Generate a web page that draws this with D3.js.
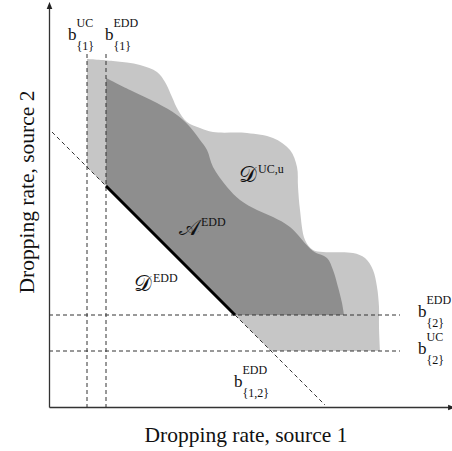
<!DOCTYPE html>
<html>
<head>
<meta charset="utf-8">
<script src="https://cdn.jsdelivr.net/npm/d3@7"></script>
<style>
body { margin: 0; background: #fff; }
text { font-family: "Liberation Serif", "Times New Roman", serif; fill: #111; }
</style>
</head>
<body>
<script>
// thresholds, in axis units (0-100 on both axes)
var b1UC = 9.5, b1EDD = 14.25;   // source 1
var b2UC = 14, b2EDD = 23;       // source 2
var b12EDD = 69.5;               // sum of both sources

// upper edge of the UC region (light grey)
var ucEdge = [
	[9.5, 87], [16, 86.5], [22.75, 85.5], [27, 83.75], [29, 81.25], [30.75, 77.5],
	[32.25, 74.25], [34.5, 71.25], [37.75, 69.75], [41, 68.75], [49.5, 68.5],
	[56, 67.25], [60.25, 64.25], [62, 60], [62.25, 55], [62.75, 49.25], [64, 41.75],
	[66, 39.25], [68.5, 38.75], [76, 38.5], [79, 37.25], [81, 34.25], [82, 30],
	[82.5, 25], [82.5, 20], [82.75, 14]
];

// upper edge of the EDD acceptance region (dark grey)
var eddEdge = [
	[14.25, 82.25], [20.25, 79.25], [27, 76], [32, 73], [35.25, 70], [37.75, 66.75],
	[39.5, 64.25], [41, 60], [44.5, 55], [47.75, 51.75], [52, 49.25], [56, 47.5],
	[60.25, 45], [66, 39], [69.5, 37.25], [71, 34.25], [72.25, 30], [73.25, 26],
	[73.75, 23]
];

var axisLabels = ["Dropping rate, source 1", "Dropping rate, source 2"];

window.onload = function(){
	var w = 452, h = 451;

	var svg = d3.select("body")
		.append("svg")
		.attr("width", w)
		.attr("height", h);

	var x = d3.scaleLinear().domain([0, 100]).range([49, 449]);
	var y = d3.scaleLinear().domain([0, 100]).range([407, 7]);

	var edge = d3.line()
		.x(function(d){ return x(d[0]); })
		.y(function(d){ return y(d[1]); })
		.curve(d3.curveCatmullRom);

	function pt(a, b){ return "L" + x(a) + "," + y(b); }

	// light grey region
	svg.append("path")
		.attr("class", "ucRegion")
		.attr("d", edge(ucEdge) + pt(b12EDD - b2UC, b2UC) + pt(b1UC, b12EDD - b1UC) + "Z")
		.style("fill", "#c6c6c6");

	// dark grey region
	svg.append("path")
		.attr("class", "eddRegion")
		.attr("d", edge(eddEdge) + pt(b12EDD - b2EDD, b2EDD) + pt(b1EDD, b12EDD - b1EDD) + "Z")
		.style("fill", "#8e8e8e");

	var dashed = svg.append("g")
		.attr("class", "dashed")
		.style("stroke", "#333")
		.style("stroke-width", 1)
		.style("stroke-dasharray", "4,3")
		.style("fill", "none");

	[b1UC, b1EDD].forEach(function(v){
		dashed.append("line")
			.attr("x1", x(v)).attr("x2", x(v))
			.attr("y1", y(88.25)).attr("y2", y(0));
	});
	[b2EDD, b2UC].forEach(function(v){
		dashed.append("line")
			.attr("x1", x(0)).attr("x2", x(87.75))
			.attr("y1", y(v)).attr("y2", y(v));
	});
	dashed.append("line")
		.attr("x1", x(0.75)).attr("y1", y(b12EDD - 0.75))
		.attr("x2", x(69)).attr("y2", y(b12EDD - 69));

	// boundary of the acceptance region on the diagonal
	svg.append("line")
		.attr("class", "eddLine")
		.attr("x1", x(b1EDD)).attr("y1", y(b12EDD - b1EDD))
		.attr("x2", x(b12EDD - b2EDD)).attr("y2", y(b2EDD))
		.style("stroke", "#000")
		.style("stroke-width", 3);

	// axes with arrow heads
	svg.append("defs").append("marker")
		.attr("id", "arrow")
		.attr("viewBox", "0 0 10 10")
		.attr("refX", 2).attr("refY", 5)
		.attr("markerWidth", 7).attr("markerHeight", 7)
		.attr("markerUnits", "userSpaceOnUse")
		.attr("orient", "auto")
		.append("path")
		.attr("d", "M0,1L10,5L0,9Z")
		.style("fill", "#222");

	svg.append("g")
		.attr("class", "axis")
		.attr("transform", "translate(0," + y(0) + ")")
		.call(d3.axisBottom(x).ticks(0).tickSizeOuter(0))
		.select(".domain")
		.attr("marker-end", "url(#arrow)")
		.style("stroke", "#333")
		.style("stroke-width", 1.3);

	svg.append("g")
		.attr("class", "axis")
		.attr("transform", "translate(" + x(0) + ",0)")
		.call(d3.axisLeft(y).ticks(0).tickSizeOuter(0))
		.select(".domain")
		.attr("marker-end", "url(#arrow)")
		.style("stroke", "#333")
		.style("stroke-width", 1.3);

	svg.append("text")
		.attr("class", "xTitle")
		.attr("text-anchor", "middle")
		.attr("x", 246).attr("y", 442)
		.style("font-size", "21.5px")
		.text(axisLabels[0]);

	svg.append("text")
		.attr("class", "yTitle")
		.attr("text-anchor", "middle")
		.attr("transform", "translate(34,192) rotate(-90)")
		.style("font-size", "21.5px")
		.text(axisLabels[1]);

	// b with superscript and subscript
	function bLabel(px, py, sup, sub){
		var g = svg.append("g").attr("class", "bLabel");
		g.append("text").attr("x", px).attr("y", py)
			.style("font-size", "17px").text("b");
		g.append("text").attr("x", px + 8.5).attr("y", py - 13)
			.style("font-size", "12px").text(sup);
		g.append("text").attr("x", px + 8.5).attr("y", py + 10)
			.style("font-size", "12px").text(sub);
	}
	bLabel(x(b1UC) - 19, 40, "UC", "{1}");
	bLabel(x(b1EDD) - 1, 40, "EDD", "{1}");
	bLabel(418, y(b2EDD) + 2, "EDD", "{2}");
	bLabel(418, y(b2UC) + 3, "UC", "{2}");
	bLabel(234, 387, "EDD", "{1,2}");

	// region names
	function regionLabel(px, py, sym, sup){
		var t = svg.append("text").attr("x", px).attr("y", py)
			.style("font-size", "22px");
		t.append("tspan").text(sym);
		t.append("tspan").attr("dx", 1).attr("dy", -9).style("font-size", "12px").text(sup);
	}
	regionLabel(239, 182, "\uD835\uDC9F", "UC,u");
	regionLabel(179, 235, "\uD835\uDC9C", "EDD");
	regionLabel(134, 291, "\uD835\uDC9F", "EDD");
};
</script>
</body>
</html>
